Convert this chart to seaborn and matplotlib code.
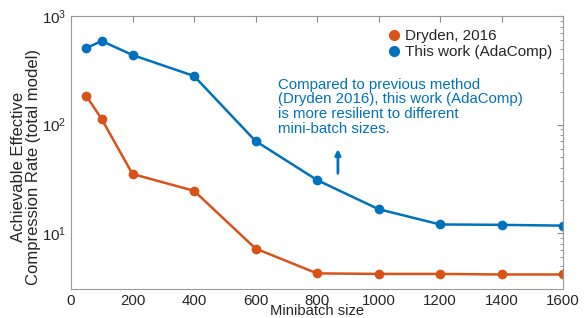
import numpy as np
import pandas as pd
import matplotlib
matplotlib.use("Agg")
import matplotlib.pyplot as plt
import seaborn as sns
from matplotlib.lines import Line2D

minibatch = [50, 100, 200, 400, 600, 800, 1000, 1200, 1400, 1600]
dryden = [183, 112, 35, 24.5, 7.2, 4.25, 4.2, 4.2, 4.15, 4.15]
adacomp = [507, 588, 437, 280, 70.5, 30.8, 16.6, 12.0, 11.9, 11.7]
series_names = ["Dryden, 2016", "This work (AdaComp)"]
colors = ["#D95319", "#0072BD"]
xticks = [0, 200, 400, 600, 800, 1000, 1200, 1400, 1600]

df = pd.DataFrame({
    "Minibatch size": minibatch * 2,
    "rate": dryden + adacomp,
    "series": [series_names[0]] * len(minibatch) + [series_names[1]] * len(minibatch),
})

sns.set_style("white")
plt.rcParams["font.family"] = ["Liberation Sans", "DejaVu Sans"]

fig = plt.figure(figsize=(5.87, 3.18), dpi=100)
ax = fig.add_axes([71 / 587, 1 - 289 / 318, (563 - 71) / 587, (289 - 16) / 318])

sns.lineplot(data=df, x="Minibatch size", y="rate", hue="series",
             palette=dict(zip(series_names, colors)), marker="o",
             markersize=7, markeredgewidth=0, linewidth=1.8, ax=ax, legend=False)

ax.set_yscale("log")
ax.set_xlim(0, 1600)
ax.set_ylim(3.05, 1000)
ax.set_xticks(xticks)
ax.set_xticklabels([str(t) for t in xticks])
ax.tick_params(axis="both", which="both", direction="in", top=True, right=True,
               color="#888888", labelsize=10.8, pad=3.5)
ax.tick_params(axis="both", which="major", length=4)
ax.tick_params(axis="y", which="minor", length=2.5)
for s in ax.spines.values():
    s.set_color("#999999")
    s.set_linewidth(0.8)

ax.set_xlabel("")
ax.set_ylabel("")
fig.text(317 / 587, 1 - 315 / 318, "Minibatch size", fontsize=10.6,
         ha="center", va="baseline")
fig.text(26 / 587, 1 - 167 / 318, "Achievable Effective\nCompression Rate (total model)",
         fontsize=12, rotation=90, ha="center", va="center", linespacing=1.0,
         multialignment="center")

handles = [Line2D([], [], marker="o", color=c, linestyle="none", markersize=7) for c in colors]
ax.legend(handles, series_names, loc="upper right", frameon=False, fontsize=11,
          handletextpad=0.2, borderaxespad=0.3, labelspacing=0.1, handlelength=1.0,
          bbox_to_anchor=(1.0, 0.99))

ax.text(673, 146, "Compared to previous method\n(Dryden 2016), this work (AdaComp)\nis more resilient to different\nmini-batch sizes.",
        color=colors[1], fontsize=10.8, va="center", ha="left", linespacing=1.05)
ax.annotate("", xy=(868, 63), xytext=(868, 33.5),
            arrowprops=dict(arrowstyle="-|>", color=colors[1], lw=2, mutation_scale=8))

fig.savefig("out.png", dpi=100)
